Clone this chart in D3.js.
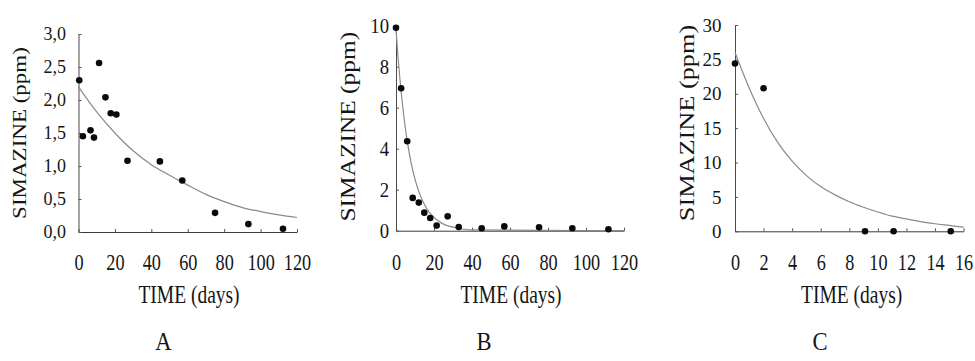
<!DOCTYPE html>
<html>
<head>
<meta charset="utf-8">
<script src="https://cdn.jsdelivr.net/npm/d3@7"></script>
<style>
  body { margin: 0; background: #fff; }
  svg { display: block; }
  text { font-family: "Liberation Serif", "Times New Roman", serif; fill: #151515; }
</style>
</head>
<body>
<div id="chart"></div>
<script>
const width = 975
const height = 361

// Panel A: measured simazine vs time, with fitted decay curve
const timeA = [0.4, 2.4, 6.6, 8.5, 11.3, 14.8, 17.7, 20.8, 26.9, 44.7, 57, 75, 93.3, 112.3]
const simA = [2.30, 1.45, 1.54, 1.43, 2.56, 2.04, 1.80, 1.78, 1.08, 1.07, 0.78, 0.29, 0.12, 0.05]
const fitTimeA = [0, 10, 20, 30, 40, 50, 60, 70, 80, 90, 100, 110, 120]
const fitSimA = [2.20, 1.82, 1.50, 1.23, 1.02, 0.86, 0.71, 0.57, 0.46, 0.37, 0.31, 0.26, 0.22]
const xTicksA = [0, 20, 40, 60, 80, 100, 120]
const yTicksA = [0, 0.5, 1, 1.5, 2, 2.5, 3]

// Panel B
const timeB = [0, 2.7, 5.9, 8.8, 12, 14.9, 18, 21.4, 27.2, 33, 45.1, 57, 75.3, 92.8, 111.8]
const simB = [9.9, 6.95, 4.36, 1.6, 1.37, 0.88, 0.62, 0.25, 0.70, 0.18, 0.12, 0.21, 0.17, 0.12, 0.07]
const fitTimeB = [0, 1, 2, 3, 4, 5, 6, 8, 10, 12, 14, 16, 18, 20, 24, 28, 32, 36, 40, 120]
const fitSimB = [9.8, 8.55, 7.46, 6.51, 5.68, 4.95, 4.32, 3.29, 2.52, 1.92, 1.46, 1.11, 0.85, 0.65, 0.37, 0.22, 0.13, 0.07, 0.04, 0]
const xTicksB = [0, 20, 40, 60, 80, 100, 120]
const yTicksB = [0, 2, 4, 6, 8, 10]

// Panel C
const timeC = [0, 2, 9.1, 11.1, 15.1]
const simC = [24.4, 20.8, 0, 0, 0]
const fitTimeC = [0, 1, 2, 3, 4, 5, 6, 7, 8, 9, 10, 11, 12, 13, 14, 15, 16]
const fitSimC = [26.0, 20.8, 16.4, 12.9, 10.2, 8.1, 6.5, 5.3, 4.3, 3.5, 2.8, 2.2, 1.8, 1.4, 1.1, 0.85, 0.6]
const xTicksC = [0, 2, 4, 6, 8, 10, 12, 14, 16]
const yTicksC = [0, 5, 10, 15, 20, 25, 30]

const panelLetters = ["A", "B", "C"]
const xTitle = "TIME (days)"
const yTitle = "SIMAZINE (ppm)"

// comma decimal like the original figure
const commaFmt = d3.formatLocale({decimal: ",", thousands: ".", grouping: [3], currency: ["", ""]}).format(".1f")

const panels = [
  {t: timeA, c: simA, ft: fitTimeA, fc: fitSimA, xTicks: xTicksA, yTicks: yTicksA, fmt: commaFmt,
   xr: [78.5, 297], yr: [232, 34],
   yTickFont: 18, yTickSq: 1, yPad: 12.5,
   yTitleX: 26, yTitleY: 133, yTitleFont: 23, yTitleSq: 0.83,
   xTitleX: 189, letterX: 163.5},
  {t: timeB, c: simB, ft: fitTimeB, fc: fitSimB, xTicks: xTicksB, yTicks: yTicksB, fmt: d3.format("d"),
   xr: [396, 624], yr: [230.7, 25.7],
   yTickFont: 22, yTickSq: 0.85, yPad: 7,
   yTitleX: 355, yTitleY: 126.7, yTitleFont: 25.4, yTitleSq: 0.85,
   xTitleX: 511, letterX: 484},
  {t: timeC, c: simC, ft: fitTimeC, fc: fitSimC, xTicks: xTicksC, yTicks: yTicksC, fmt: d3.format("d"),
   xr: [735, 963.6], yr: [231.3, 25],
   yTickFont: 19, yTickSq: 1, yPad: 13.5,
   yTitleX: 694, yTitleY: 123, yTitleFont: 26.3, yTitleSq: 0.8,
   xTitleX: 851.7, letterX: 820}
]

const svg = d3.select("#chart")
  .append("svg")
    .attr("width", width)
    .attr("height", height)

panels.forEach((p, i) => {
  const x = d3.scaleLinear()
      .domain(d3.extent(p.xTicks))
      .range(p.xr)
  const y = d3.scaleLinear()
      .domain(d3.extent(p.yTicks))
      .range(p.yr)

  const g = svg.append("g")

  // x axis, ticks pointing into the plot
  const xAxis = g.append("g")
      .attr("transform", `translate(0,${p.yr[0]})`)
      .call(d3.axisBottom(x).tickValues(p.xTicks).tickSize(-3).tickSizeOuter(0))
  xAxis.select(".domain").attr("stroke", "#3a3a3a")
  xAxis.selectAll(".tick line").attr("stroke", "#555")
  xAxis.selectAll(".tick text")
      .attr("font-family", null)
      .style("font-size", "24px")
      .attr("y", 270 - p.yr[0])
      .attr("dy", null)
      .attr("transform", "scale(0.76,1)")

  const yAxis = g.append("g")
      .attr("transform", `translate(${p.xr[0]},0)`)
      .call(d3.axisLeft(y).tickValues(p.yTicks).tickFormat(p.fmt).tickSize(-3).tickSizeOuter(0).tickPadding(p.yPad))
  yAxis.select(".domain").attr("stroke", "#4a4a4a")
  yAxis.selectAll(".tick line").attr("stroke", "#555")
  yAxis.selectAll(".tick text")
      .attr("font-family", null)
      .style("font-size", p.yTickFont + "px")
      .attr("x", -p.yPad / p.yTickSq)
      .attr("transform", `scale(${p.yTickSq},1)`)
  g.selectAll(".domain").attr("stroke-width", 1)

  // fitted curve
  const fit = p.ft.map((t, j) => [t, p.fc[j]])
  g.append("path")
      .datum(fit)
      .attr("fill", "none")
      .attr("stroke", "#8a8a8a")
      .attr("stroke-width", 1.2)
      .attr("d", d3.line()
        .x(d => x(d[0]))
        .y(d => y(d[1]))
        .curve(d3.curveMonotoneX))

  // measured points
  g.append("g")
    .selectAll("circle")
    .data(p.t.map((t, j) => [t, p.c[j]]))
    .join("circle")
      .attr("cx", d => x(d[0]))
      .attr("cy", d => y(d[1]))
      .attr("r", 3.3)
      .attr("fill", "#0a0a0a")

  // axis titles
  g.append("text")
      .attr("text-anchor", "middle")
      .attr("transform", `translate(${p.xTitleX},303) scale(0.78,1)`)
      .style("font-size", "25px")
      .text(xTitle)

  g.append("text")
      .attr("text-anchor", "middle")
      .attr("transform", `translate(${p.yTitleX},${p.yTitleY}) rotate(-90) scale(1,${p.yTitleSq})`)
      .style("font-size", p.yTitleFont + "px")
      .text(yTitle)

  g.append("text")
      .attr("text-anchor", "middle")
      .attr("transform", `translate(${p.letterX},350) scale(0.87,1)`)
      .style("font-size", "26px")
      .text(panelLetters[i])
})
</script>
</body>
</html>
